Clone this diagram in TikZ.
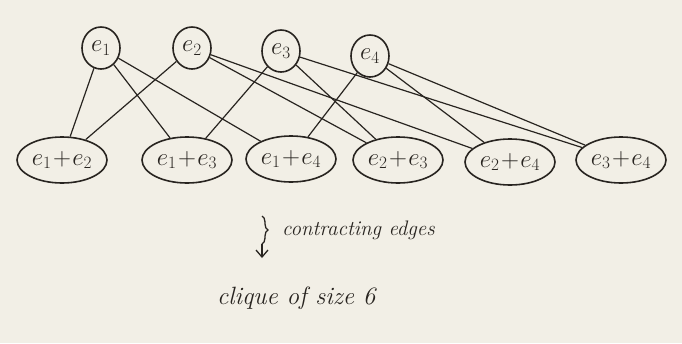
\documentclass[tikz,border=0pt]{standalone}
\usetikzlibrary{shapes.geometric,decorations.pathreplacing,arrows.meta}
\definecolor{paper}{RGB}{242,239,230}
\definecolor{ink}{RGB}{40,36,32}
\begin{document}
\begin{tikzpicture}[x=1pt,y=-1pt,
  every node/.style={text=ink},
  top/.style={ellipse,draw=ink,line width=1.6pt,minimum width=38pt,minimum height=42pt,inner sep=0pt,font=\fontsize{24}{26}\selectfont},
  bot/.style={ellipse,draw=ink,line width=1.6pt,minimum width=90pt,minimum height=46pt,inner sep=0pt,font=\fontsize{24}{26}\selectfont},
  edge/.style={draw=ink,line width=1.2pt},
  lab/.style={anchor=west,inner sep=0pt}]
\fill[paper] (0,0) rectangle (682,343);
\useasboundingbox (0,0) rectangle (682,343);
\node[top] (e1) at (101,48) {$e_1$};
\node[top] (e2) at (192,48) {$e_2$};
\node[top] (e3) at (281,51) {$e_3$};
\node[top] (e4) at (370,56) {$e_4$};
\node[bot] (e12) at (62,160) {$e_1\!+\!e_2$};
\node[bot] (e13) at (187,160) {$e_1\!+\!e_3$};
\node[bot] (e14) at (291,159) {$e_1\!+\!e_4$};
\node[bot] (e23) at (398,160) {$e_2\!+\!e_3$};
\node[bot] (e24) at (510,162) {$e_2\!+\!e_4$};
\node[bot] (e34) at (621,160) {$e_3\!+\!e_4$};
\foreach \a/\b in {e1/e12,e1/e13,e1/e14,e2/e12,e2/e23,e2/e24,e3/e13,e3/e23,e3/e34,e4/e14,e4/e24,e4/e34}
  \path[edge] (\a) -- (\b);
\coordinate (bt) at (262,216);
\coordinate (bb) at (262,244);
\coordinate (ae) at (262,258);
\draw[ink,line width=1.3pt,decorate,decoration={brace,amplitude=6pt}] (bt) -- (bb);
\draw[ink,line width=1.3pt,-{Straight Barb[length=7pt,width=12pt]}] (bb) -- (ae);
\node[lab,font=\fontsize{21}{24}\itshape\selectfont] (ce) at (282,230) {contracting edges};
\node[lab,font=\fontsize{25}{28}\itshape\selectfont] (cq) at (217,298) {clique of size 6};
\end{tikzpicture}
\end{document}
